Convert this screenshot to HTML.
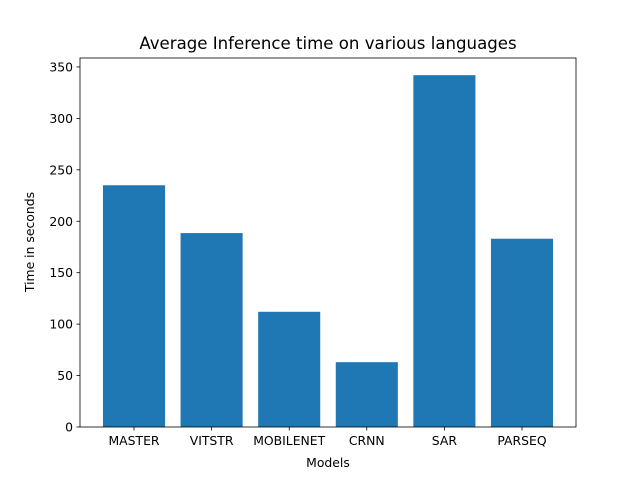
<!DOCTYPE html>
<html><head><meta charset="utf-8"><style>
body{margin:0;background:#fff}
svg text{font-family:"DejaVu Sans","Liberation Sans",sans-serif;fill:#000}
</style></head><body>
<svg id="chart" width="640" height="480">
<rect width="640" height="480" fill="#fff"/>
<text x="328" y="49" font-size="16.6" text-anchor="middle">Average Inference time on various languages</text>
<g id="bars"></g>
<g id="yticks"></g>
<g id="xticks"></g>
<rect x="80" y="58" width="496" height="369" fill="none" stroke="#000" stroke-width="0.8"/>
<text x="328" y="467" font-size="12.4" text-anchor="middle">Models</text>
<text transform="translate(34,242) rotate(-90)" font-size="12.4" text-anchor="middle">Time in seconds</text>
</svg>
<script>
const categories=["MASTER","VITSTR","MOBILENET","CRNN","SAR","PARSEQ"];
const values=[235,188.5,112,63,342,183];
const yTicks=[0,50,100,150,200,250,300,350];
const L=80,R=576,T=58,B=427;
const xMin=-0.696,xMax=5.696,yMax=358.7;
const xs=v=>L+(v-xMin)/(xMax-xMin)*(R-L);
const ys=v=>B-v/yMax*(B-T);
const NS="http://www.w3.org/2000/svg";
const bars=document.getElementById('bars'),yt=document.getElementById('yticks'),xt=document.getElementById('xticks');
categories.forEach((c,i)=>{
 const r=document.createElementNS(NS,'rect');
 const x0=xs(i-0.4),x1=xs(i+0.4);
 r.setAttribute('x',x0);r.setAttribute('width',x1-x0);
 r.setAttribute('y',ys(values[i]));r.setAttribute('height',B-ys(values[i]));
 r.setAttribute('fill','#1f77b4');
 
 
 bars.appendChild(r);
 const l=document.createElementNS(NS,'line');
 l.setAttribute('x1',xs(i));l.setAttribute('x2',xs(i));l.setAttribute('y1',B);l.setAttribute('y2',B+3.5);l.setAttribute('stroke','#000');l.setAttribute('stroke-width','0.8');
 xt.appendChild(l);
 const t=document.createElementNS(NS,'text');
 t.setAttribute('x',xs(i));t.setAttribute('y',B+18);t.setAttribute('font-size','12.4');t.setAttribute('text-anchor','middle');
 t.textContent=c;
 
 
 xt.appendChild(t);
});
yTicks.forEach(v=>{
 const l=document.createElementNS(NS,'line');
 l.setAttribute('x1',L-3.5);l.setAttribute('x2',L);l.setAttribute('y1',ys(v));l.setAttribute('y2',ys(v));l.setAttribute('stroke','#000');l.setAttribute('stroke-width','0.8');
 yt.appendChild(l);
 const t=document.createElementNS(NS,'text');
 t.setAttribute('x',L-7);t.setAttribute('y',ys(v)+4.5);t.setAttribute('font-size','12.4');t.setAttribute('text-anchor','end');
 t.textContent=v;
 
 
 yt.appendChild(t);
});
</script>
</body></html>
